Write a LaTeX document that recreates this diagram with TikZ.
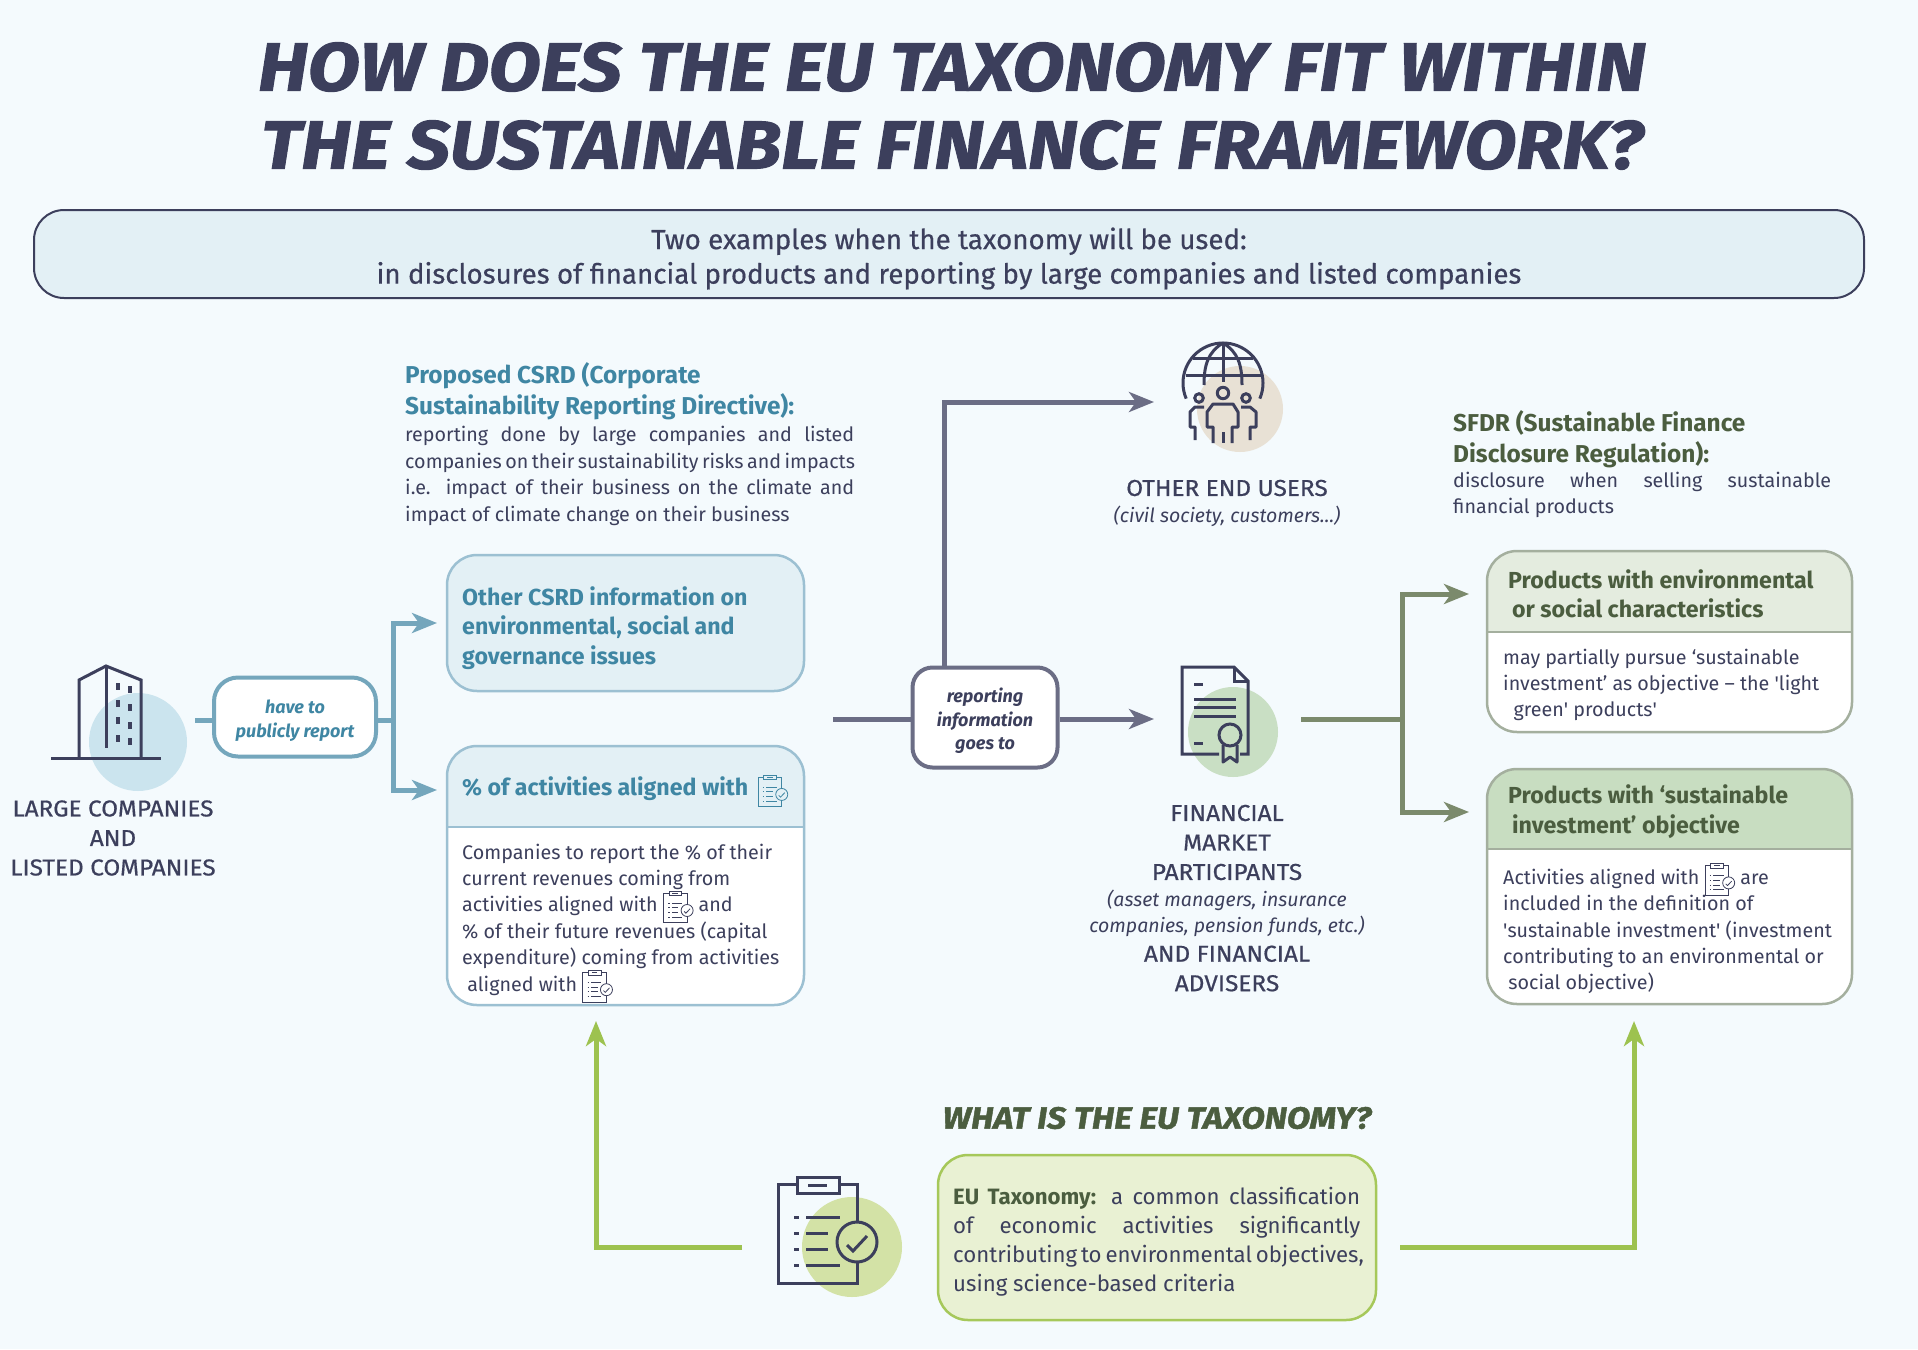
\documentclass[tikz,border=0pt]{standalone}
\usepackage{fontspec}
\setmainfont{Fira Sans}
\newfontfamily\titlefont{Fira Sans}[BoldItalicFeatures={FakeStretch=1.115,FakeBold=1.5}]
\newfontfamily\capsfont{Fira Sans}[FakeStretch=1.06,FakeBold=.6]
\newfontfamily\bannerfont{Fira Sans}[FakeBold=.5]
\usetikzlibrary{arrows.meta,positioning,calc}

\definecolor{paper}{HTML}{F4FAFD}
\definecolor{ink}{HTML}{3C3F5C}
\definecolor{teal}{HTML}{3F86A3}
\definecolor{tealline}{HTML}{74A6BC}
\definecolor{tealsoft}{HTML}{E3F0F5}
\definecolor{tealedge}{HTML}{9CC0D2}
\definecolor{tealdisc}{HTML}{CBE4EE}
\definecolor{slate}{HTML}{6B6D85}
\definecolor{moss}{HTML}{4B5D3F}
\definecolor{mossline}{HTML}{7B8A6C}
\definecolor{mossedge}{HTML}{A4AF9E}
\definecolor{mosspale}{HTML}{E4ECDF}
\definecolor{mossfill}{HTML}{C8DDC1}
\definecolor{mossdisc}{HTML}{C9DFC4}
\definecolor{lime}{HTML}{9DC24F}
\definecolor{limeedge}{HTML}{A6C85A}
\definecolor{limesoft}{HTML}{E9F1D3}
\definecolor{limedisc}{HTML}{D3E2A6}
\definecolor{sanddisc}{HTML}{E8E1D5}

\tikzset{
	bodytext/.style={font=\fontsize{19.7}{26.4}\selectfont, text=ink, inner sep=0pt, align=left},
	headtext/.style={font=\fontsize{24.4}{31}\selectfont\bfseries, inner sep=0pt, align=left},
	boxhead/.style={font=\fontsize{23.2}{29.5}\selectfont\bfseries, inner sep=0pt, align=left},
	capstext/.style={font=\fontsize{23}{29.5}\capsfont, text=ink, inner sep=0pt, align=center},
	smallnote/.style={font=\fontsize{19.5}{26}\selectfont\itshape, text=ink, inner sep=0pt, align=center},
	pillnote/.style={font=\fontsize{18}{23.5}\selectfont\bfseries\itshape, inner sep=0pt, align=center},
	pillbox/.style={draw=#1, fill=white, line width=4pt, rounded corners=24pt, inner sep=0pt},
	softbox/.style 2 args={draw=#2, fill=#1, line width=2.5pt, rounded corners=30pt, inner sep=0pt},
	headbox/.style n args={3}{draw=#2, fill=white, line width=2.5pt, rounded corners=30pt, inner sep=0pt,
		path picture={
			\fill[#1, sharp corners] (path picture bounding box.north west) rectangle ([yshift=-#3]path picture bounding box.north east);
			\draw[#2, line width=2.5pt, sharp corners] ([yshift=-#3]path picture bounding box.north west) -- ([yshift=-#3]path picture bounding box.north east);
		}},
	flow/.style={draw=#1, line width=5pt},
	flowtip/.style={draw=#1, line width=5pt, -{Stealth[length=25pt,width=20pt,inset=7pt]}},
	icon/.style={draw=ink, line width=3pt}
}

% clipboard, drawn round its own middle
\newcommand{\clipdraw}[2]{
	\begin{scope}[draw=#1, line width=#2]
	\draw (-21,-46)--(-40,-46)--(-40,53)--(39,53)--(39,32);
	\draw (21,-46)--(39,-46)--(39,-8);
	\draw (-21,-53) rectangle (21,-37);
	\draw (-10,-45)--(9,-45);
	\foreach \y/\e in {-13/22,3/10,19/10,35/22}{
		\draw (-24,\y)--(-19,\y);
		\draw (-12,\y)--(\e,\y);
	}
	\draw (39,12) circle (20);
	\draw (29,15)--(35,21)--(49,6);
	\end{scope}
}
\newcommand{\miniclip}[1]{\smash{\tikz[baseline={(0,-5pt)}, x=.3pt, y=-.3pt]{\clipdraw{#1}{.8pt}}}}

\begin{document}
\begin{tikzpicture}[x=1pt, y=-1pt]
	\useasboundingbox (0,0) rectangle (1918,1349);
	\fill[paper] (0,0) rectangle (1918,1349);

	\node[font=\fontsize{68}{78}\titlefont\bfseries\itshape, text=ink, align=center, inner sep=0pt] (title) at (952,106) {HOW DOES THE EU TAXONOMY FIT WITHIN\\THE SUSTAINABLE FINANCE FRAMEWORK?};

	\node[softbox={tealsoft}{ink}, line width=2pt, minimum width=1830pt, minimum height=88pt] (banner) at (949,254) {};
	\node[font=\fontsize{27.7}{34.5}\bannerfont, text=ink, align=center, inner sep=0pt] (bannertext) at (949,258.5) {Two examples when the taxonomy will be used:\\in disclosures of financial products and reporting by large companies and listed companies};

	% left side
	\fill[tealdisc] (138,742) circle (49);
	\draw[icon] (51,758)--(161,758);
	\draw[icon] (79,758)--(79,680)--(106,666)--(141,680)--(141,758);
	\draw[icon] (106,666)--(106,748);
	\foreach \x/\y in {118/686,118/703,118/720,118/738,130/689,130/707,130/725,130/741}
		\fill[ink] (\x-2,\y-3.5) rectangle (\x+2,\y+3.5);
	\node[capstext] (companies) at (113,838) {LARGE COMPANIES\\AND\\LISTED COMPANIES};

	\node[pillbox=tealline, minimum width=162pt, minimum height=79pt] (have) at (295,717) {};
	\node[pillnote, text=teal] (havetext) at (295,720.5) {have to\\publicly report};

	\node[headtext, text=teal, anchor=west] (csrdhead) at (405,391) {Proposed CSRD (Corporate\\Sustainability Reporting Directive):};
	\node[bodytext, anchor=west] (csrdtext) at (405,476) {\makebox[449pt][s]{reporting done by large companies and listed}\\\makebox[449pt][s]{companies on their sustainability risks and impacts}\\\makebox[449pt][s]{i.e. impact of their business on the climate and}\\impact of climate change on their business};

	\node[softbox={tealsoft}{tealedge}, minimum width=357pt, minimum height=136pt] (otherbox) at (625.5,623) {};
	\node[boxhead, text=teal, anchor=west] (othertext) at (462,628) {Other CSRD information on\\environmental, social and\\governance issues};

	\node[headbox={tealsoft}{tealedge}{81pt}, minimum width=357pt, minimum height=259pt] (pctbox) at (625.5,875.5) {};
	\node[boxhead, text=teal, anchor=west] (pcthead) at (462,789) {\% of activities aligned with \,\miniclip{teal}};
	\node[bodytext, anchor=west] (pcttext) at (462,919.5) {Companies to report the \% of their\\current revenues coming from\\activities aligned with \miniclip{ink} and\\\% of their future revenues (capital\\expenditure) coming from activities\\\ aligned with \miniclip{ink}};

	\coordinate (bluefork) at (393,720);
	\coordinate (bluestart) at (195,720);
	\coordinate (pctin) at (437,790);
	\coordinate (otherin) at (437,623);
	\draw[flow=tealline] (bluestart) -- (have.west |- bluestart);
	\draw[flow=tealline] (have.east |- bluefork) -- (bluefork);
	\draw[flowtip=tealline] (bluefork) |- (otherin);
	\draw[flowtip=tealline] (bluefork) |- (pctin);

	% middle
	\node[pillbox=slate, minimum width=145pt, minimum height=100pt, rounded corners=20pt] (report) at (985,717.5) {};
	\node[pillnote, text=ink] (reporttext) at (985,721) {reporting\\information\\goes to};

	\fill[sanddisc] (1240,409) circle (43);
	\draw[icon] (1223,383) ++(157:40) arc[start angle=157, end angle=383, radius=40];
	\draw[icon] (1193,358)--(1253,358);
	\draw[icon] (1186,375)--(1261,375);
	\draw[icon] (1223,343)--(1223,382);
	\draw[icon] (1223,343) .. controls (1208,352) and (1204,365) .. (1204,385);
	\draw[icon] (1223,343) .. controls (1238,352) and (1242,365) .. (1242,385);
	\draw[icon] (1223,393) circle (5.7);
	\draw[icon] (1199,398) circle (4.3);
	\draw[icon] (1246,398) circle (4.3);
	\draw[icon, line join=round] (1213,443)--(1213,427)--(1207,427)--(1207,412)--(1213,404)--(1233,404)--(1238,412)--(1238,427)--(1232,427)--(1232,443);
	\draw[icon] (1223,432)--(1223,443);
	\draw[icon, line join=round] (1204,407)--(1195,407)--(1190,412)--(1190,427)--(1195,427)--(1195,440);
	\draw[icon, line join=round] (1241,407)--(1250,407)--(1256,412)--(1256,427)--(1250,427)--(1250,440);
	\node[capstext] (users) at (1227,488) {OTHER END USERS};
	\node[smallnote] (usersnote) at (1227,516) {(civil society, customers...)};

	\fill[mossdisc] (1233,732) circle (45);
	\draw[icon] (1219,754)--(1182,754)--(1182,667)--(1234,667)--(1248,681)--(1248,754)--(1240,754);
	\draw[icon] (1234,667)--(1234,681)--(1248,681);
	\draw[icon] (1194,684)--(1203,684);
	\foreach \y in {699,707,716}
		\draw[icon] (1194,\y)--(1236,\y);
	\draw[icon] (1194,743)--(1203,743);
	\draw[icon] (1230,735) circle (11);
	\draw[icon, line join=round] (1223,745)--(1223,762)--(1230,757)--(1237,762)--(1237,745);
	\node[capstext] (fmp) at (1227,842.5) {FINANCIAL\\MARKET\\PARTICIPANTS};
	\node[smallnote] (fmpnote) at (1227,913) {(asset managers, insurance\\companies, pension funds, etc.)};
	\node[capstext] (advisers) at (1227,968.5) {AND FINANCIAL\\ADVISERS};

	\coordinate (greystart) at (833,719);
	\coordinate (fmpin) at (1154,719);
	\coordinate (usersin) at (1154,402);
	\coordinate (greyup) at (944,667);
	\draw[flow=slate] (greystart) -- (report.west |- greystart);
	\draw[flowtip=slate] (report.east |- fmpin) -- (fmpin);
	\draw[flowtip=slate] (greyup) |- (usersin);

	% right side
	\node[headtext, text=moss, anchor=west] (sfdrhead) at (1453,439) {SFDR (Sustainable Finance\\Disclosure Regulation):};
	\node[bodytext, anchor=west] (sfdrtext) at (1453,495) {\makebox[378pt][s]{disclosure when selling sustainable}\\financial products};

	\node[headbox={mosspale}{mossedge}{81pt}, minimum width=365pt, minimum height=181pt] (envbox) at (1669.5,641.5) {};
	\node[boxhead, text=moss, anchor=west] (envhead) at (1508,594) {Products with environmental\\\,or social characteristics};
	\node[bodytext, anchor=west] (envtext) at (1503,685) {may partially pursue ‘sustainable\\investment’ as objective -- the \textquotesingle light\\\ \ green\textquotesingle{} products\textquotesingle};

	\node[headbox={mossfill}{mossedge}{80pt}, minimum width=365pt, minimum height=235pt] (sustbox) at (1669.5,886.5) {};
	\node[boxhead, text=moss, anchor=west] (susthead) at (1508,811.5) {Products with ‘sustainable\\\,investment’ objective};
	\node[bodytext, anchor=west] (susttext) at (1503,931.5) {Activities aligned with \miniclip{ink} are\\included in the definition of\\\textquotesingle sustainable investment\textquotesingle{} (investment\\contributing to an environmental or\\\ social objective)};

	\coordinate (mossstart) at (1301,719);
	\coordinate (mossfork) at (1402,719);
	\coordinate (envin) at (1469,594);
	\coordinate (sustin) at (1469,812);
	\draw[flow=mossline] (mossstart) -- (mossfork);
	\draw[flowtip=mossline] (mossfork) |- (envin);
	\draw[flowtip=mossline] (mossfork) |- (sustin);

	% bottom
	\fill[limedisc] (852,1247) circle (50);
	\begin{scope}[shift={(818,1230)}]
	\clipdraw{ink}{3pt}
	\end{scope}

	\node[font=\fontsize{30.5}{34}\titlefont\bfseries\itshape, text=moss, inner sep=0pt] (taxohead) at (1157,1118) {WHAT IS THE EU TAXONOMY?};
	\node[softbox={limesoft}{limeedge}, minimum width=438pt, minimum height=165pt] (taxobox) at (1157,1237.5) {};
	\node[font=\fontsize{22.2}{29}\selectfont, text=ink, inner sep=0pt, align=left, anchor=west] (taxotext) at (953,1241.5) {\makebox[407pt][s]{\textcolor{moss}{\textbf{EU Taxonomy:}} a common classification}\\\makebox[407pt][s]{of economic activities significantly}\\\makebox[407pt][s]{contributing to environmental objectives,}\\using science-based criteria};

	\coordinate (taxoleft) at (742,1247);
	\coordinate (taxoright) at (1400,1247);
	\coordinate (pctup) at (596,1021);
	\coordinate (sustup) at (1634,1021);
	\draw[flowtip=lime] (taxoleft) -| (pctup);
	\draw[flowtip=lime] (taxoright) -| (sustup);
\end{tikzpicture}
\end{document}
